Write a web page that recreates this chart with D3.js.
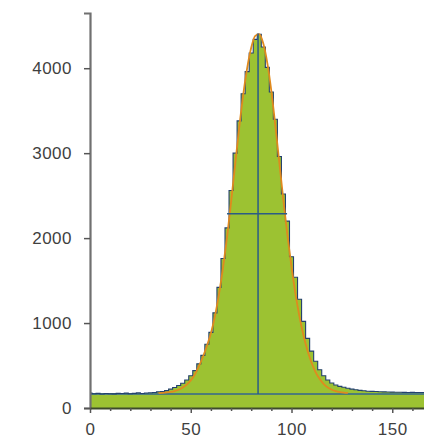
<!DOCTYPE html>
<html>
<head>
<meta charset="utf-8">
<script src="https://cdn.jsdelivr.net/npm/d3@7"></script>
<style>
  html, body { margin: 0; padding: 0; background: #fff; }
  svg { display: block; }
  .tick text { font-family: "Liberation Sans", Arial, sans-serif; font-size: 17px; fill: #3f3f3f; letter-spacing: 0.5px; }
</style>
</head>
<body>
<svg id="chart" width="424" height="439"></svg>
<script>
// Histogram bin centres (width 2) and counts
const binCenters = [0,2,4,6,8,10,12,14,16,18,20,22,24,26,28,30,32,34,36,38,40,42,44,46,48,50,52,54,56,58,60,62,64,66,68,70,72,74,76,78,80,82,84,86,88,90,92,94,96,98,100,102,104,106,108,110,112,114,116,118,120,122,124,126,128,130,132,134,136,138,140,142,144,146,148,150,152,154,156,158,160,162,164,166];
const counts = [175,168,172,165,170,168,166,172,170,175,168,172,178,170,176,180,182,190,195,205,222,242,265,292,330,380,440,520,620,750,890,1120,1420,1760,2120,2560,3000,3380,3700,3960,4180,4340,4400,4250,4010,3720,3400,2960,2520,2200,1780,1540,1280,1020,820,670,550,450,380,330,295,270,255,245,232,222,214,208,203,198,196,194,192,190,189,187,186,185,184,183,184,182,183,182];

// Fitted peak profile
const fitX = [34,36,38,40,42,44,46,48,50,52,54,56,58,60,62,64,66,68,70,72,74,76,78,80,82,84,86,88,90,92,94,96,98,100,102,104,106,108,110,112,114,116,118,120,122,124,126,128];
const fitY = [175,178,183,190,200,215,240,275,325,395,490,600,730,880,1080,1340,1650,2010,2420,2860,3290,3680,4000,4240,4380,4400,4290,4060,3730,3320,2880,2440,2030,1660,1340,1070,850,670,530,420,340,280,240,215,198,188,182,178];

// Peak statistics
const background = 165;
const peakCenter = 83.4;
const peakHeight = 4410;
const fwhmLeft = 68.0;
const fwhmRight = 97.8;

// Axis ticks
const xMajorTicks = [0, 50, 100, 150];
const xMinorTicks = [10,20,30,40,60,70,80,90,110,120,130,140,160];
const yTicks = [0, 1000, 2000, 3000, 4000];

const svg = d3.select("#chart");
const x = d3.scaleLinear().domain([0, 166]).range([90, 424.5]);
const y = d3.scaleLinear().domain([0, 4650]).range([408, 13]);

svg.append("defs").append("clipPath").attr("id", "plot")
  .append("rect").attr("x", 90).attr("y", 0).attr("width", 340).attr("height", 408);

const hist = binCenters.map((b, i) => ({x: b, y: counts[i]}));

const g = svg.append("g").attr("clip-path", "url(#plot)");

// filled histogram
g.append("path")
  .datum(hist)
  .attr("fill", "#9cc232")
  .attr("d", d3.area().curve(d3.curveStep).x(d => x(d.x)).y0(y(0)).y1(d => y(d.y)));

// background level
g.append("line")
  .attr("x1", x(0)).attr("x2", x(166))
  .attr("y1", y(background)).attr("y2", y(background))
  .attr("stroke", "#4d7d78").attr("stroke-width", 2);

// histogram outline
g.append("path")
  .datum(hist)
  .attr("fill", "none")
  .attr("stroke", "#23406e")
  .attr("stroke-width", 1.1)
  .attr("d", d3.line().curve(d3.curveStep).x(d => x(d.x)).y(d => y(d.y)));

// fitted curve
g.append("path")
  .datum(fitX.map((v, i) => ({x: v, y: fitY[i]})))
  .attr("fill", "none")
  .attr("stroke", "#e08a1e")
  .attr("stroke-width", 1.8)
  .attr("d", d3.line().curve(d3.curveMonotoneX).x(d => x(d.x)).y(d => y(d.y)));

// peak centre and full width at half maximum
g.append("line")
  .attr("x1", x(peakCenter)).attr("x2", x(peakCenter))
  .attr("y1", y(background)).attr("y2", y(peakHeight))
  .attr("stroke", "#2b5b86").attr("stroke-width", 1.5);
const halfMax = (peakHeight + background) / 2;
g.append("line")
  .attr("x1", x(fwhmLeft)).attr("x2", x(fwhmRight))
  .attr("y1", y(halfMax)).attr("y2", y(halfMax))
  .attr("stroke", "#2b5b86").attr("stroke-width", 1.5);

// axes
const yAxis = svg.append("g").attr("transform", `translate(${x(0)},0)`)
  .call(d3.axisLeft(y).tickValues(yTicks).tickFormat(d3.format("d")).tickSize(6).tickPadding(12));
yAxis.select(".domain").attr("stroke", "#707070").attr("stroke-width", 2.2);
yAxis.selectAll(".tick line").attr("stroke", "#555").attr("stroke-width", 1.5);

const xAxis = svg.append("g").attr("transform", `translate(0,${y(0)})`)
  .call(d3.axisBottom(x).tickValues(xMajorTicks).tickFormat(d3.format("d")).tickSize(5).tickPadding(10).tickSizeOuter(0));
xAxis.select(".domain").attr("stroke", "#3d4a2a").attr("stroke-width", 1.8);
xAxis.selectAll(".tick line").attr("stroke", "#555").attr("stroke-width", 1.5);

svg.append("g").attr("transform", `translate(0,${y(0)})`)
  .call(d3.axisBottom(x).tickValues(xMinorTicks).tickFormat("").tickSize(3).tickSizeOuter(0))
  .call(a => a.select(".domain").remove())
  .selectAll(".tick line").attr("stroke", "#555").attr("stroke-width", 1.5);
</script>
</body>
</html>
